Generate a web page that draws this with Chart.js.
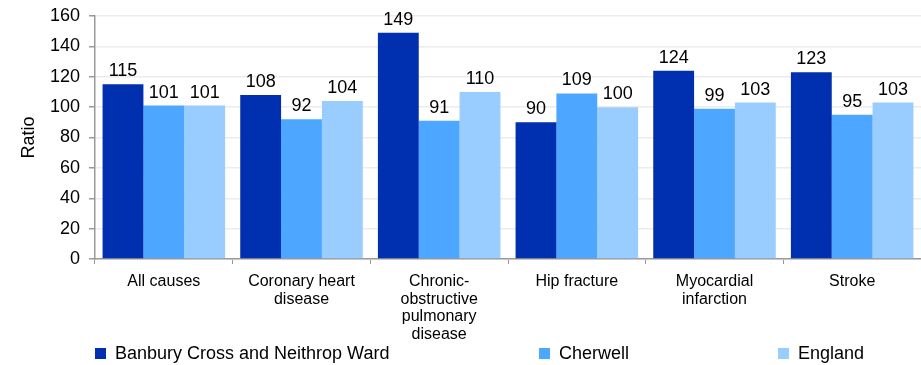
<!DOCTYPE html>
<html>
<head>
<meta charset="utf-8">
<script src="https://cdn.jsdelivr.net/npm/chart.js@4"></script>
<style>
  html, body { margin: 0; padding: 0; background: #fff; }
  #wrap { position: relative; width: 921px; height: 365px; }
  .legend-item {
    position: absolute;
    top: 343px;
    font-family: "Liberation Sans", Arial, sans-serif;
    font-size: 18px;
    color: #000;
    display: flex;
    align-items: center;
    white-space: nowrap;
  }
  .legend-item span.box { width: 11px; height: 11px; margin-right: 9px; display: inline-block; }
</style>
</head>
<body>
<div id="wrap">
  <canvas id="chart" width="921" height="365"></canvas>
  <div id="legend"></div>
</div>
<script>
// Chart data
const categories = [
  'All causes',
  ['Coronary heart', 'disease'],
  ['Chronic-', 'obstructive', 'pulmonary', 'disease'],
  'Hip fracture',
  ['Myocardial', 'infarction'],
  'Stroke'
];
const seriesNames = ['Banbury Cross and Neithrop Ward', 'Cherwell', 'England'];
const wardValues = [115, 108, 149, 90, 124, 123];
const cherwellValues = [101, 92, 91, 109, 99, 95];
const englandValues = [101, 104, 110, 100, 103, 103];
const yTicks = [0, 20, 40, 60, 80, 100, 120, 140, 160];

const colors = ['#0030B0', '#4DA6FF', '#99CCFF'];
const legendX = [95, 539, 778];
const FONT = '"Liberation Sans", Arial, sans-serif';

// draws the value above each bar
const valueLabels = {
  id: 'valueLabels',
  afterDatasetsDraw(chart) {
    const ctx = chart.ctx;
    ctx.save();
    ctx.font = '18px ' + FONT;
    ctx.fillStyle = '#000';
    ctx.textAlign = 'center';
    ctx.textBaseline = 'bottom';
    chart.data.datasets.forEach((ds, i) => {
      const meta = chart.getDatasetMeta(i);
      meta.data.forEach((bar, j) => {
        ctx.fillText(ds.data[j], bar.x, bar.y - 4);
      });
    });
    ctx.restore();
  }
};

const datasets = [wardValues, cherwellValues, englandValues].map((vals, i) => ({
  label: seriesNames[i],
  data: vals,
  backgroundColor: colors[i],
  borderWidth: 0,
  categoryPercentage: 0.89,
  barPercentage: 1.0
}));

const ctx = document.getElementById('chart').getContext('2d');
const chart = new Chart(ctx, {
  type: 'bar',
  data: {
    labels: categories,
    datasets: datasets
  },
  options: {
    responsive: false,
    animation: false,
    layout: {
      padding: { top: 16, right: 0, left: 0, bottom: 0 }
    },
    plugins: {
      legend: { display: false },
      tooltip: { enabled: false }
    },
    scales: {
      x: {
        grid: {
          drawOnChartArea: false,
          drawTicks: true,
          tickLength: 5,
          tickColor: '#999',
          offset: true
        },
        border: { color: '#999', width: 1.5 },
        ticks: {
          color: '#000',
          padding: 9,
          maxRotation: 0,
          autoSkip: false,
          font: { family: FONT, size: 16, lineHeight: 1.1 }
        },
        afterFit: function(scale) {
          scale.height = 106;
          scale.paddingLeft = 0;
          scale.paddingRight = 0;
        }
      },
      y: {
        min: 0,
        max: 160,
        afterBuildTicks: function(scale) {
          scale.ticks = yTicks.map(v => ({ value: v }));
        },
        grid: {
          color: '#ececec',
          lineWidth: 1.5,
          tickLength: 6,
          tickColor: '#999'
        },
        border: { color: '#999', width: 1.5 },
        ticks: {
          color: '#000',
          padding: 9,
          font: { family: FONT, size: 18 }
        },
        title: {
          display: true,
          text: 'Ratio',
          color: '#000',
          padding: { top: 18, bottom: 0 },
          font: { family: FONT, size: 18 }
        },
        afterFit: function(scale) {
          scale.width = 95;
          scale.paddingTop = 0;
          scale.paddingBottom = 0;
        }
      }
    }
  },
  plugins: [valueLabels]
});

// legend along the bottom
const legendEl = document.getElementById('legend');
seriesNames.forEach((name, i) => {
  const item = document.createElement('div');
  item.className = 'legend-item';
  item.style.left = legendX[i] + 'px';
  item.innerHTML = '<span class="box" style="background:' + colors[i] + '"></span>' + name;
  legendEl.appendChild(item);
});
</script>
</body>
</html>
